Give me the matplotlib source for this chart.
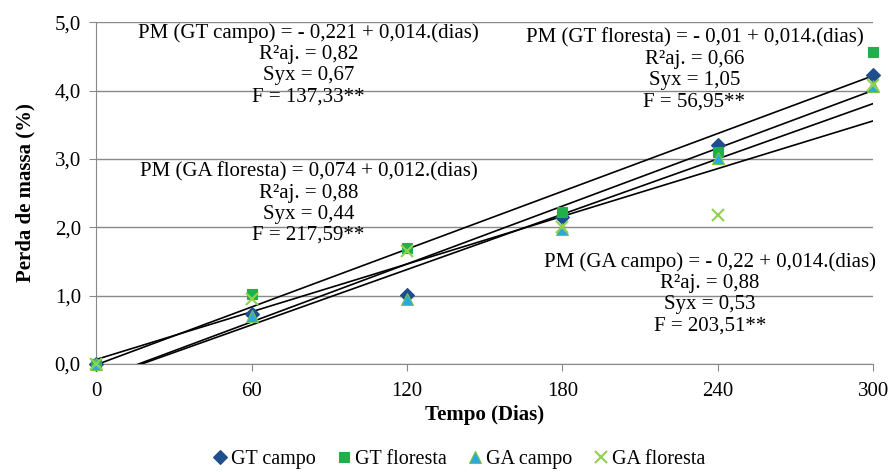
import numpy as np
import matplotlib
matplotlib.use('Agg')
import matplotlib.pyplot as plt

plt.rcParams['font.family'] = ['Liberation Serif', 'DejaVu Serif']

dias = [0, 60, 120, 180, 240, 300]
gt_campo = [0.0, 0.73, 1.01, 2.15, 3.2, 4.22]
gt_floresta = [0.0, 1.02, 1.70, 2.22, 3.10, 4.57]
ga_campo = [0.0, 0.70, 0.95, 1.97, 3.02, 4.07]
ga_floresta = [0.0, 0.95, 1.65, 2.00, 2.18, 4.08]

series = [
    ('GT campo', gt_campo, 'D', '#1F4E8C', '#1F4E8C', 7),
    ('GT floresta', gt_floresta, 's', '#1DB04B', '#1DB04B', 7),
    ('GA campo', ga_campo, '^', '#2AA9E0', '#7DC242', 8),
    ('GA floresta', ga_floresta, 'x', '#92D050', '#92D050', 9),
]

equations = [
    ("PM (GT campo) = - 0,221 + 0,014.(dias)\nR²aj. = 0,82\nSyx = 0,67\nF = 137,33**", 82, 4.98),
    ("PM (GT floresta) = - 0,01 + 0,014.(dias)\nR²aj. = 0,66\nSyx = 1,05\nF = 56,95**", 231, 4.91),
    ("PM (GA floresta) = 0,074 + 0,012.(dias)\nR²aj. = 0,88\nSyx = 0,44\nF = 217,59**", 82, 2.95),
    ("PM (GA campo) = - 0,22 + 0,014.(dias)\nR²aj. = 0,88\nSyx = 0,53\nF = 203,51**", 237, 1.63),
]

fig = plt.figure(figsize=(8.9, 4.72), dpi=100)
ax = fig.add_axes([0.108, 0.229, 0.873, 0.724])

x = np.array(dias, dtype=float)
xx = np.array([0, 300], dtype=float)
for name, vals, mk, fc, ec, ms in series:
    # linear trend line (least squares)
    b, a = np.polyfit(x, vals, 1)
    ax.plot(xx, a + b * xx, color='black', lw=1.2, zorder=2)

for name, vals, mk, fc, ec, ms in series:
    if mk == 'x':
        ax.plot(dias, vals, linestyle='none', marker=mk, color=fc, ms=ms,
                mew=1.5, label=name, clip_on=False, zorder=3)
    else:
        ax.plot(dias, vals, linestyle='none', marker=mk, mfc=fc, mec=ec, ms=ms,
                mew=0.8, label=name, clip_on=False, zorder=3)

for txt, tx, ty in equations:
    ax.text(tx, ty, txt, ha='center', va='top', fontsize=15,
            linespacing=1.15, zorder=4)

ax.set_xlim(0, 300)
ax.set_ylim(0, 5)
ax.set_xticks([0, 60, 120, 180, 240, 300])
ax.set_yticks(np.arange(0, 5.01, 1))
ax.set_yticklabels(['0,0', '1,0', '2,0', '3,0', '4,0', '5,0'])
ax.tick_params(labelsize=15, color='#898989', length=5)
ax.tick_params(axis='y', pad=6)
ax.tick_params(axis='x', pad=8)
ax.grid(axis='y', color='#898989', lw=1)
ax.set_axisbelow(True)
for s in ['top', 'right']:
    ax.spines[s].set_visible(False)
for s in ['left', 'bottom']:
    ax.spines[s].set_color('#898989')

ax.set_xlabel('Tempo (Dias)', fontsize=15, fontweight='bold', labelpad=3)
ax.set_ylabel('Perda de massa (%)', fontsize=15, fontweight='bold', labelpad=14)

ax.legend(loc='upper center', bbox_to_anchor=(0.465, -0.2), ncol=4, frameon=False,
          fontsize=14.5, handletextpad=0.05, columnspacing=0.9, handlelength=1.0)

fig.savefig('out.png', dpi=100)
